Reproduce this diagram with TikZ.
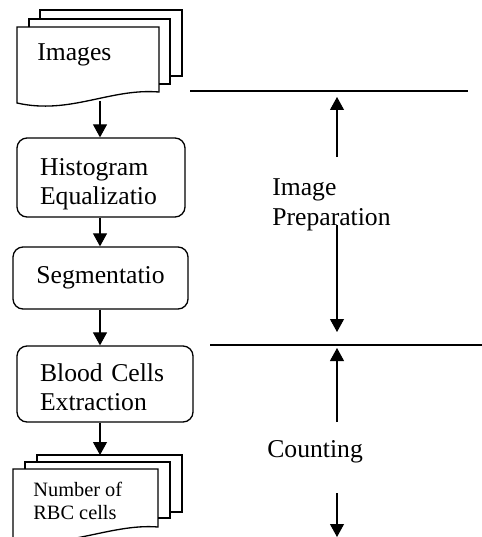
\documentclass[tikz,border=0pt]{standalone}
\usepackage{fontspec}
\setmainfont{Liberation Serif}
\usetikzlibrary{arrows.meta, positioning}
\tikzset{
    stepbox/.style={
        rectangle, rounded corners=0.2cm, draw=black, line width=0.75pt,
        inner xsep=0.46cm, inner ysep=0pt, align=left, font=\fontsize{14.6}{16.5}\selectfont
    },
    plaintext/.style={
        inner sep=0pt, align=left, font=\fontsize{14.6}{17}\selectfont
    },
    smalltext/.style={
        inner sep=0pt, align=left, font=\fontsize{11.6}{13}\selectfont
    },
    sheet/.style={
        draw=black, line width=0.75pt, line join=miter
    },
    divider/.style={
        line width=0.75pt
    },
    arrow/.style={
        line width=0.6pt, -{Triangle[length=2.6mm, width=2.8mm]}
    }
}
\begin{document}
\begin{tikzpicture}[x=0.02cm, y=-0.02cm]
    \useasboundingbox (0,0) rectangle (482,537);
    \clip (0,0) rectangle (482,537);

    % input images
    \draw[sheet] (40,19) -- (40,10) -- (182,10) -- (182,76) -- (170,76);
    \draw[sheet] (29,27) -- (29,19) -- (170,19) -- (170,84) -- (159,84);
    \draw[sheet] (17,27) -- (159,27) -- (159,92) .. controls (110,88) and (70,115) .. (17,103) -- cycle;
    \node[plaintext, anchor=north west] (images) at (37,43) {Images};
    \coordinate (imgout) at (100,101);

    \node[stepbox, text width=2.44cm, text height=0.59cm, minimum height=1.58cm] (hist) at (101,177.5) {Histogram\\Equalizatio};
    \node[stepbox, align=center, minimum width=3.5cm, minimum height=1.24cm] (seg) at (100.5,278) {Segmentatio};
    \node[stepbox, text width=2.6cm, text height=0.47cm, minimum height=1.52cm] (blood) at (105,384) {Blood Cells\\Extraction};

    % output
    \draw[sheet] (37,462) -- (37,455) -- (182,455) -- (182,512) -- (170,512);
    \draw[sheet] (25,469) -- (25,462) -- (170,462) -- (170,518) -- (158,518);
    \draw[sheet] (13,469) -- (158,469) -- (158,527) .. controls (110,523) and (60,552) .. (13,538) -- cycle;
    \node[smalltext, anchor=north west] (rbc) at (33,482) {Number of\\RBC cells};
    \coordinate (rbcin) at (100,455);

    \draw[arrow] (imgout) -- (imgout |- hist.north);
    \draw[arrow] (hist.south -| imgout) -- (seg.north -| imgout);
    \draw[arrow] (seg.south -| imgout) -- (blood.north -| imgout);
    \draw[arrow] (blood.south -| rbcin) -- (rbcin);

    % stages
    \draw[divider] (190,91) -- (468,91);
    \draw[divider] (210,345) -- (482,345);
    \node[plaintext, anchor=north west] (prep) at (272,178) {Image\\Preparation};
    \node[plaintext, anchor=north west] (count) at (267,440) {Counting};

    \coordinate (prepup) at (337,157);
    \coordinate (preptop) at (337,97);
    \coordinate (prepdown) at (337,225);
    \coordinate (prepbot) at (337,332);
    \coordinate (countup) at (337,422);
    \coordinate (counttop) at (337,348);
    \coordinate (countdown) at (337,493);
    \coordinate (countbot) at (337,537);
    \draw[arrow] (prepup) -- (preptop);
    \draw[arrow] (prepdown) -- (prepbot);
    \draw[arrow] (countup) -- (counttop);
    \draw[arrow] (countdown) -- (countbot);
\end{tikzpicture}
\end{document}
